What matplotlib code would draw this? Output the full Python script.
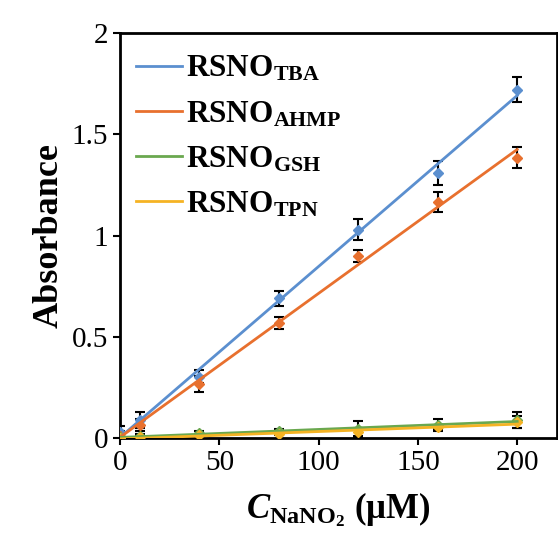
import numpy as np
import matplotlib
matplotlib.use('Agg')
import matplotlib.pyplot as plt

plt.rcParams['font.family'] = 'Liberation Serif'
plt.rcParams['mathtext.fontset'] = 'custom'
plt.rcParams['mathtext.rm'] = 'Liberation Serif:bold'
plt.rcParams['mathtext.it'] = 'Liberation Serif:italic:bold'
plt.rcParams['mathtext.bf'] = 'Liberation Serif:bold'

conc = [0, 10, 40, 80, 120, 160, 200]

tba = [0.03, 0.09, 0.305, 0.69, 1.03, 1.31, 1.72]
tba_err = [0.03, 0.04, 0.03, 0.035, 0.05, 0.06, 0.06]
ahmp = [0.01, 0.067, 0.27, 0.57, 0.90, 1.165, 1.385]
ahmp_err = [0.01, 0.03, 0.04, 0.03, 0.03, 0.05, 0.05]
gsh = [0.005, 0.01, 0.025, 0.035, 0.045, 0.065, 0.09]
gsh_err = [0.03, 0.01, 0.01, 0.01, 0.04, 0.03, 0.04]
tpn = [0.0, 0.005, 0.015, 0.02, 0.03, 0.055, 0.08]
tpn_err = [0.01, 0.005, 0.005, 0.005, 0.02, 0.01, 0.03]

series = [
    ('TBA', tba, tba_err, '#5B8FCF'),
    ('AHMP', ahmp, ahmp_err, '#E8702E'),
    ('GSH', gsh, gsh_err, '#6AA84F'),
    ('TPN', tpn, tpn_err, '#F5B324'),
]

fig = plt.figure(figsize=(5.58, 5.46), dpi=100)
ax = fig.add_axes([0.215, 0.197, 0.783, 0.743])

xfit = np.array([0, 200])
for name, y, err, col in series:
    ax.errorbar(conc, y, yerr=err, fmt='none', ecolor='black', elinewidth=1.5,
                capsize=3.5, capthick=1.5, zorder=2)
    ax.plot(conc, y, linestyle='none', marker='D', markersize=5, color=col, zorder=3)
    k, b = np.polyfit(conc, y, 1)
    ax.plot(xfit, k * xfit + b, color=col, linewidth=2, zorder=4,
            label=r'RSNO$_{\mathrm{' + name + '}}$')

ax.set_xlim(0, 220)
ax.set_ylim(0, 2)
ax.set_xticks([0, 50, 100, 150, 200])
ax.set_yticks([0, 0.5, 1, 1.5, 2])
ax.set_yticklabels(['0', '0.5', '1', '1.5', '2'])
ax.tick_params(labelsize=21, width=1.5, length=5, direction='out')
for s in ax.spines.values():
    s.set_linewidth(2)

ax.set_ylabel('Absorbance', fontsize=26, fontweight='bold')
ax.set_xlabel(r'$\mathit{C}_{\mathrm{NaNO_2}}$ (μM)', fontsize=25, fontweight='bold',
              labelpad=10)

leg = ax.legend(loc='upper left', fontsize=22.5, frameon=False, handlelength=1.5,
                handletextpad=0.1, labelspacing=0.5, borderaxespad=0.1,
                bbox_to_anchor=(0.0, 0.985))
for t in leg.get_texts():
    t.set_fontweight('bold')

fig.savefig('out.png', dpi=100)
